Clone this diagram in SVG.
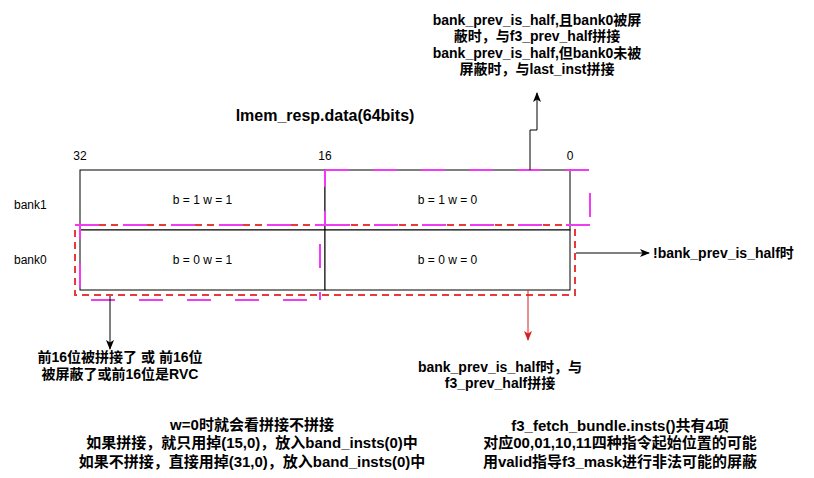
<svg xmlns="http://www.w3.org/2000/svg" width="814" height="478" viewBox="0 0 814 478">
<style>
text{font-family:"Liberation Sans","Noto Sans CJK SC",sans-serif;fill:#000}
.b{font-weight:bold;font-size:14px;text-anchor:middle}
.b15{font-size:15px}
.s{font-size:12px}
.c{text-anchor:middle}
.cell{fill:#fff;stroke:#000;stroke-width:1}
.mg{fill:none;stroke:#f03cf0;stroke-width:2;stroke-dasharray:24 24}
.rd{fill:none;stroke:#e83a3a;stroke-width:2;stroke-dasharray:7 5}
.ln{fill:none;stroke:#000;stroke-width:1}
</style>
<defs>
<marker id="ah" viewBox="0 0 10 10" refX="9" refY="5" markerWidth="10" markerHeight="10" markerUnits="userSpaceOnUse" orient="auto">
<path d="M0,1 L10,5 L0,9 L2.5,5 Z" fill="#000"/>
</marker>
<marker id="ahr" viewBox="0 0 10 10" refX="9" refY="5" markerWidth="10" markerHeight="10" markerUnits="userSpaceOnUse" orient="auto">
<path d="M0,1 L10,5 L0,9 L2.5,5 Z" fill="#d42020"/>
</marker>
</defs>
<rect width="814" height="478" fill="#fff"/>

<g id="title"><text class="b" x="325" y="121" style="font-size:16px">lmem_resp.data(64bits)</text></g>

<g id="bit-labels">
<text class="s c" x="80" y="160">32</text>
<text class="s c" x="325" y="160">16</text>
<text class="s c" x="570" y="160">0</text>
</g>
<g id="row-labels">
<text class="s" x="14" y="209">bank1</text>
<text class="s" x="14" y="264">bank0</text>
</g>

<g id="cell-b1w1"><rect class="cell" x="80" y="170" width="245" height="60"/><text class="s c" x="202.5" y="204">b = 1 w = 1</text></g>
<g id="cell-b1w0"><rect class="cell" x="325" y="170" width="245" height="60"/><text class="s c" x="447.5" y="204">b = 1 w = 0</text></g>
<g id="cell-b0w1"><rect class="cell" x="80" y="230" width="245" height="60"/><text class="s c" x="202.5" y="264">b = 0 w = 1</text></g>
<g id="cell-b0w0"><rect class="cell" x="325" y="230" width="245" height="60"/><text class="s c" x="447.5" y="264">b = 0 w = 0</text></g>

<g id="red-region"><rect class="rd" x="75" y="225" width="500" height="70"/></g>
<g id="magenta-region">
<path class="mg" d="M325,170 L590,170 L590,225"/>
<path class="mg" d="M590,225 L325,225"/>
<path class="mg" d="M325,170 L325,225 L75,225" style="stroke-dashoffset:7"/>
<path class="mg" d="M80,223 L80,300 L320,300" style="stroke-dashoffset:8"/>
<path class="mg" d="M320,300 L320,230" style="stroke-dashoffset:16"/>
</g>

<g id="connectors">
<path class="ln" d="M530,170 L530,130 L537,130 L537,93" marker-end="url(#ah)"/>
<path class="ln" d="M576,253 L649,253" marker-end="url(#ah)"/>
<path class="ln" d="M110,296 L110,349" marker-end="url(#ah)"/>
<path d="M528,290 L528,340" fill="none" stroke="#d42020" stroke-width="1" marker-end="url(#ahr)"/>
</g>

<g id="note-top">
<text class="b" x="537" y="25">bank_prev_is_half,且bank0被屏</text>
<text class="b" x="537" y="41">蔽时，与f3_prev_half拼接</text>
<text class="b" x="537" y="58">bank_prev_is_half,但bank0未被</text>
<text class="b" x="537" y="74">屏蔽时，与last_inst拼接</text>
</g>
<g id="note-right"><text class="b" x="653" y="258" style="text-anchor:start">!bank_prev_is_half时</text></g>
<g id="note-left">
<text class="b" x="120" y="362">前16位被拼接了 或 前16位</text>
<text class="b" x="120" y="379">被屏蔽了或前16位是RVC</text>
</g>
<g id="note-mid">
<text class="b" x="500" y="372">bank_prev_is_half时，与</text>
<text class="b" x="500" y="388">f3_prev_half拼接</text>
</g>
<g id="note-bottom-left">
<text class="b b15" x="252" y="430">w=0时就会看拼接不拼接</text>
<text class="b b15" x="252" y="448">如果拼接，就只用掉(15,0)，放入band_insts(0)中</text>
<text class="b b15" x="252" y="467">如果不拼接，直接用掉(31,0)，放入band_insts(0)中</text>
</g>
<g id="note-bottom-right">
<text class="b b15" x="620" y="431">f3_fetch_bundle.insts()共有4项</text>
<text class="b b15" x="620" y="448">对应00,01,10,11四种指令起始位置的可能</text>
<text class="b b15" x="620" y="467">用valid指导f3_mask进行非法可能的屏蔽</text>
</g>
</svg>
